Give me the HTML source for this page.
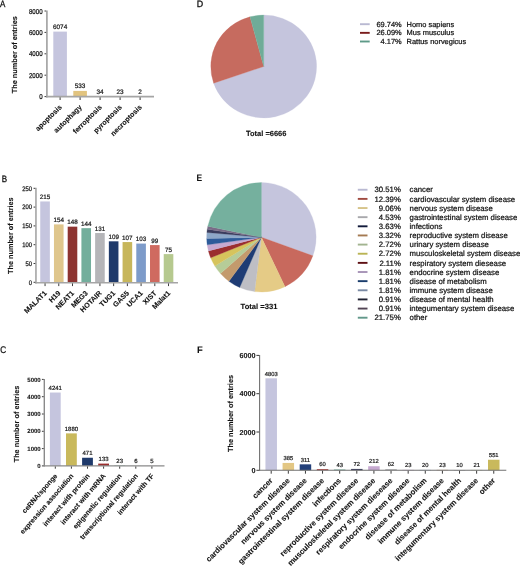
<!DOCTYPE html>
<html><head><meta charset="utf-8"><style>
html,body{margin:0;padding:0;background:#fff;}
svg{display:block;will-change:transform;filter:blur(0.35px);}
text{font-family:"Liberation Sans", sans-serif;text-rendering:geometricPrecision;}
</style></head><body>
<svg width="520" height="568" viewBox="0 0 520 568">
<rect width="520" height="568" fill="#fff"/>
<text x="0" y="0" font-size="9.4" stroke="#111111" stroke-width="0.3" text-anchor="start" fill="#111111" transform="translate(0 6.8) scale(0.85 1)">A</text>
<text x="0" y="0" font-size="9.4" stroke="#111111" stroke-width="0.3" text-anchor="start" fill="#111111" transform="translate(1.7 181.9) scale(0.85 1)">B</text>
<text x="0" y="0" font-size="9.6" stroke="#111111" stroke-width="0.3" text-anchor="start" fill="#111111" transform="translate(0.2 352.9) scale(0.85 1)">C</text>
<text x="0" y="0" font-size="9.4" stroke="#111111" stroke-width="0.3" text-anchor="start" fill="#111111" transform="translate(196.8 6.9) scale(0.95 1)">D</text>
<text x="0" y="0" font-size="9.4" font-weight="bold" stroke="#111111" stroke-width="0.05" text-anchor="start" fill="#111111" transform="translate(196.4 180.7) scale(0.9 1)">E</text>
<text x="196.9" y="352.9" font-size="9.4" font-weight="bold" stroke="#111111" stroke-width="0.05" text-anchor="start" fill="#111111">F</text>
<rect x="53.3" y="31.61" width="13.6" height="64.99" fill="#c5c5de"/>
<text x="60.1" y="28.91" font-size="6.4" stroke="#222" stroke-width="0.22" text-anchor="middle" fill="#222">6074</text>
<text x="62.3" y="107.6" font-size="7.2" font-weight="bold" stroke="#111111" stroke-width="0.1" text-anchor="end" fill="#111111" transform="rotate(-45 62.3 107.6)">apoptosis</text>
<rect x="73.3" y="90.9" width="13.6" height="5.7" fill="#e2c47f"/>
<text x="80.1" y="88.2" font-size="6.4" stroke="#222" stroke-width="0.22" text-anchor="middle" fill="#222">533</text>
<text x="82.3" y="107.6" font-size="7.2" font-weight="bold" stroke="#111111" stroke-width="0.1" text-anchor="end" fill="#111111" transform="rotate(-45 82.3 107.6)">autophagy</text>
<rect x="93.3" y="96.24" width="13.6" height="0.36" fill="#78a898"/>
<text x="100.1" y="93.54" font-size="6.4" stroke="#222" stroke-width="0.22" text-anchor="middle" fill="#222">34</text>
<text x="102.3" y="107.6" font-size="7.2" font-weight="bold" stroke="#111111" stroke-width="0.1" text-anchor="end" fill="#111111" transform="rotate(-45 102.3 107.6)">ferroptosis</text>
<rect x="113.3" y="96.35" width="13.6" height="0.25" fill="#c0504d"/>
<text x="120.1" y="93.65" font-size="6.4" stroke="#222" stroke-width="0.22" text-anchor="middle" fill="#222">23</text>
<text x="122.3" y="107.6" font-size="7.2" font-weight="bold" stroke="#111111" stroke-width="0.1" text-anchor="end" fill="#111111" transform="rotate(-45 122.3 107.6)">pyroptosis</text>
<rect x="133.3" y="96.58" width="13.6" height="0.02" fill="#9a7ab0"/>
<text x="140.1" y="93.88" font-size="6.4" stroke="#222" stroke-width="0.22" text-anchor="middle" fill="#222">2</text>
<text x="142.3" y="107.6" font-size="7.2" font-weight="bold" stroke="#111111" stroke-width="0.1" text-anchor="end" fill="#111111" transform="rotate(-45 142.3 107.6)">necroptosis</text>
<line x1="46.9" y1="10.5" x2="46.9" y2="97.45" stroke="#a5a5a5" stroke-width="1.7"/>
<line x1="46.05" y1="96.6" x2="154" y2="96.6" stroke="#a5a5a5" stroke-width="1.7"/>
<line x1="60.1" y1="97.35" x2="60.1" y2="100" stroke="#3c3c3c" stroke-width="1.0"/>
<line x1="80.1" y1="97.35" x2="80.1" y2="100" stroke="#3c3c3c" stroke-width="1.0"/>
<line x1="100.1" y1="97.35" x2="100.1" y2="100" stroke="#3c3c3c" stroke-width="1.0"/>
<line x1="120.1" y1="97.35" x2="120.1" y2="100" stroke="#3c3c3c" stroke-width="1.0"/>
<line x1="140.1" y1="97.35" x2="140.1" y2="100" stroke="#3c3c3c" stroke-width="1.0"/>
<line x1="44.5" y1="96.6" x2="46.15" y2="96.6" stroke="#3c3c3c" stroke-width="1.0"/>
<text x="0" y="0" font-size="7.0" stroke="#1a1a1a" stroke-width="0.25" text-anchor="end" fill="#1a1a1a" transform="translate(42.6 99.11) scale(0.88 1)">0</text>
<line x1="44.5" y1="75.2" x2="46.15" y2="75.2" stroke="#3c3c3c" stroke-width="1.0"/>
<text x="0" y="0" font-size="7.0" stroke="#1a1a1a" stroke-width="0.25" text-anchor="end" fill="#1a1a1a" transform="translate(42.6 77.71) scale(0.88 1)">2000</text>
<line x1="44.5" y1="53.8" x2="46.15" y2="53.8" stroke="#3c3c3c" stroke-width="1.0"/>
<text x="0" y="0" font-size="7.0" stroke="#1a1a1a" stroke-width="0.25" text-anchor="end" fill="#1a1a1a" transform="translate(42.6 56.31) scale(0.88 1)">4000</text>
<line x1="44.5" y1="32.4" x2="46.15" y2="32.4" stroke="#3c3c3c" stroke-width="1.0"/>
<text x="0" y="0" font-size="7.0" stroke="#1a1a1a" stroke-width="0.25" text-anchor="end" fill="#1a1a1a" transform="translate(42.6 34.91) scale(0.88 1)">6000</text>
<line x1="44.5" y1="11" x2="46.15" y2="11" stroke="#3c3c3c" stroke-width="1.0"/>
<text x="0" y="0" font-size="7.0" stroke="#1a1a1a" stroke-width="0.25" text-anchor="end" fill="#1a1a1a" transform="translate(42.6 13.51) scale(0.88 1)">8000</text>
<text x="17.2" y="54.7" font-size="7.35" font-weight="bold" stroke="#111111" stroke-width="0.1" text-anchor="middle" fill="#111111" transform="rotate(-90 17.2 54.7)">The number of entries</text>
<rect x="40.25" y="201.46" width="9.6" height="80.84" fill="#c5c5de"/>
<text x="45.05" y="199.16" font-size="6.3" stroke="#222" stroke-width="0.22" text-anchor="middle" fill="#222">215</text>
<text x="47.25" y="293.6" font-size="7.2" font-weight="bold" stroke="#111111" stroke-width="0.1" text-anchor="end" fill="#111111" transform="rotate(-45 47.25 293.6)">MALAT1</text>
<rect x="53.97" y="224.4" width="9.6" height="57.9" fill="#dfc68c"/>
<text x="58.77" y="222.1" font-size="6.3" stroke="#222" stroke-width="0.22" text-anchor="middle" fill="#222">154</text>
<text x="60.97" y="293.6" font-size="7.2" font-weight="bold" stroke="#111111" stroke-width="0.1" text-anchor="end" fill="#111111" transform="rotate(-45 60.97 293.6)">H19</text>
<rect x="67.69" y="226.65" width="9.6" height="55.65" fill="#8d3431"/>
<text x="72.49" y="224.35" font-size="6.3" stroke="#222" stroke-width="0.22" text-anchor="middle" fill="#222">148</text>
<text x="74.69" y="293.6" font-size="7.2" font-weight="bold" stroke="#111111" stroke-width="0.1" text-anchor="end" fill="#111111" transform="rotate(-45 74.69 293.6)">NEAT1</text>
<rect x="81.41" y="228.16" width="9.6" height="54.14" fill="#73ae9c"/>
<text x="86.21" y="225.86" font-size="6.3" stroke="#222" stroke-width="0.22" text-anchor="middle" fill="#222">144</text>
<text x="88.41" y="293.6" font-size="7.2" font-weight="bold" stroke="#111111" stroke-width="0.1" text-anchor="end" fill="#111111" transform="rotate(-45 88.41 293.6)">MEG3</text>
<rect x="95.13" y="233.04" width="9.6" height="49.26" fill="#b5b5b8"/>
<text x="99.93" y="230.74" font-size="6.3" stroke="#222" stroke-width="0.22" text-anchor="middle" fill="#222">131</text>
<text x="102.13" y="293.6" font-size="7.2" font-weight="bold" stroke="#111111" stroke-width="0.1" text-anchor="end" fill="#111111" transform="rotate(-45 102.13 293.6)">HOTAIR</text>
<rect x="108.85" y="241.32" width="9.6" height="40.98" fill="#1f3a6b"/>
<text x="113.65" y="239.02" font-size="6.3" stroke="#222" stroke-width="0.22" text-anchor="middle" fill="#222">109</text>
<text x="115.85" y="293.6" font-size="7.2" font-weight="bold" stroke="#111111" stroke-width="0.1" text-anchor="end" fill="#111111" transform="rotate(-45 115.85 293.6)">TUG1</text>
<rect x="122.57" y="242.07" width="9.6" height="40.23" fill="#c7b65b"/>
<text x="127.37" y="239.77" font-size="6.3" stroke="#222" stroke-width="0.22" text-anchor="middle" fill="#222">107</text>
<text x="129.57" y="293.6" font-size="7.2" font-weight="bold" stroke="#111111" stroke-width="0.1" text-anchor="end" fill="#111111" transform="rotate(-45 129.57 293.6)">GAS5</text>
<rect x="136.29" y="243.57" width="9.6" height="38.73" fill="#7d9bc9"/>
<text x="141.09" y="241.27" font-size="6.3" stroke="#222" stroke-width="0.22" text-anchor="middle" fill="#222">103</text>
<text x="143.29" y="293.6" font-size="7.2" font-weight="bold" stroke="#111111" stroke-width="0.1" text-anchor="end" fill="#111111" transform="rotate(-45 143.29 293.6)">UCA1</text>
<rect x="150.01" y="245.08" width="9.6" height="37.22" fill="#cf6a60"/>
<text x="154.81" y="242.78" font-size="6.3" stroke="#222" stroke-width="0.22" text-anchor="middle" fill="#222">99</text>
<text x="157.01" y="293.6" font-size="7.2" font-weight="bold" stroke="#111111" stroke-width="0.1" text-anchor="end" fill="#111111" transform="rotate(-45 157.01 293.6)">XIST</text>
<rect x="163.73" y="254.1" width="9.6" height="28.2" fill="#b6c98f"/>
<text x="168.53" y="251.8" font-size="6.3" stroke="#222" stroke-width="0.22" text-anchor="middle" fill="#222">75</text>
<text x="170.73" y="293.6" font-size="7.2" font-weight="bold" stroke="#111111" stroke-width="0.1" text-anchor="end" fill="#111111" transform="rotate(-45 170.73 293.6)">Malat1</text>
<line x1="35.95" y1="187.8" x2="35.95" y2="283.5" stroke="#a5a5a5" stroke-width="1.6"/>
<line x1="35.15" y1="282.7" x2="178" y2="282.7" stroke="#a5a5a5" stroke-width="1.6"/>
<line x1="45.05" y1="283.4" x2="45.05" y2="286.1" stroke="#3c3c3c" stroke-width="1.0"/>
<line x1="58.77" y1="283.4" x2="58.77" y2="286.1" stroke="#3c3c3c" stroke-width="1.0"/>
<line x1="72.49" y1="283.4" x2="72.49" y2="286.1" stroke="#3c3c3c" stroke-width="1.0"/>
<line x1="86.21" y1="283.4" x2="86.21" y2="286.1" stroke="#3c3c3c" stroke-width="1.0"/>
<line x1="99.93" y1="283.4" x2="99.93" y2="286.1" stroke="#3c3c3c" stroke-width="1.0"/>
<line x1="113.65" y1="283.4" x2="113.65" y2="286.1" stroke="#3c3c3c" stroke-width="1.0"/>
<line x1="127.37" y1="283.4" x2="127.37" y2="286.1" stroke="#3c3c3c" stroke-width="1.0"/>
<line x1="141.09" y1="283.4" x2="141.09" y2="286.1" stroke="#3c3c3c" stroke-width="1.0"/>
<line x1="154.81" y1="283.4" x2="154.81" y2="286.1" stroke="#3c3c3c" stroke-width="1.0"/>
<line x1="168.53" y1="283.4" x2="168.53" y2="286.1" stroke="#3c3c3c" stroke-width="1.0"/>
<line x1="33.55" y1="282.3" x2="35.25" y2="282.3" stroke="#3c3c3c" stroke-width="1.0"/>
<text x="0" y="0" font-size="6.6" stroke="#1a1a1a" stroke-width="0.25" text-anchor="end" fill="#1a1a1a" transform="translate(32.05 284.66) scale(0.89 1)">0</text>
<line x1="33.55" y1="263.5" x2="35.25" y2="263.5" stroke="#3c3c3c" stroke-width="1.0"/>
<text x="0" y="0" font-size="6.6" stroke="#1a1a1a" stroke-width="0.25" text-anchor="end" fill="#1a1a1a" transform="translate(32.05 265.86) scale(0.89 1)">50</text>
<line x1="33.55" y1="244.7" x2="35.25" y2="244.7" stroke="#3c3c3c" stroke-width="1.0"/>
<text x="0" y="0" font-size="6.6" stroke="#1a1a1a" stroke-width="0.25" text-anchor="end" fill="#1a1a1a" transform="translate(32.05 247.06) scale(0.89 1)">100</text>
<line x1="33.55" y1="225.9" x2="35.25" y2="225.9" stroke="#3c3c3c" stroke-width="1.0"/>
<text x="0" y="0" font-size="6.6" stroke="#1a1a1a" stroke-width="0.25" text-anchor="end" fill="#1a1a1a" transform="translate(32.05 228.26) scale(0.89 1)">150</text>
<line x1="33.55" y1="207.1" x2="35.25" y2="207.1" stroke="#3c3c3c" stroke-width="1.0"/>
<text x="0" y="0" font-size="6.6" stroke="#1a1a1a" stroke-width="0.25" text-anchor="end" fill="#1a1a1a" transform="translate(32.05 209.46) scale(0.89 1)">200</text>
<line x1="33.55" y1="188.3" x2="35.25" y2="188.3" stroke="#3c3c3c" stroke-width="1.0"/>
<text x="0" y="0" font-size="6.6" stroke="#1a1a1a" stroke-width="0.25" text-anchor="end" fill="#1a1a1a" transform="translate(32.05 190.66) scale(0.89 1)">250</text>
<text x="12.6" y="235.7" font-size="7.3" font-weight="bold" stroke="#111111" stroke-width="0.1" text-anchor="middle" fill="#111111" transform="rotate(-90 12.6 235.7)">The number of entries</text>
<rect x="49.9" y="392.53" width="10.8" height="73.37" fill="#c5c5de"/>
<text x="55.3" y="389.93" font-size="6.0" stroke="#222" stroke-width="0.22" text-anchor="middle" fill="#222">4241</text>
<text x="57.8" y="476.2" font-size="7.0" font-weight="bold" stroke="#111111" stroke-width="0.1" text-anchor="end" fill="#111111" transform="rotate(-49 57.8 476.2)">ceRNA/sponge</text>
<rect x="66" y="433.38" width="10.8" height="32.52" fill="#c9b95c"/>
<text x="71.4" y="430.78" font-size="6.0" stroke="#222" stroke-width="0.22" text-anchor="middle" fill="#222">1880</text>
<text x="73.9" y="476.2" font-size="7.0" font-weight="bold" stroke="#111111" stroke-width="0.1" text-anchor="end" fill="#111111" transform="rotate(-49 73.9 476.2)">expression association</text>
<rect x="82.1" y="457.75" width="10.8" height="8.15" fill="#1f3a6b"/>
<text x="87.5" y="455.15" font-size="6.0" stroke="#222" stroke-width="0.22" text-anchor="middle" fill="#222">471</text>
<text x="90" y="476.2" font-size="7.0" font-weight="bold" stroke="#111111" stroke-width="0.1" text-anchor="end" fill="#111111" transform="rotate(-49 90 476.2)">interact with protein</text>
<rect x="98.2" y="463.6" width="10.8" height="2.3" fill="#9b2e2e"/>
<text x="103.6" y="461" font-size="6.0" stroke="#222" stroke-width="0.22" text-anchor="middle" fill="#222">133</text>
<text x="106.1" y="476.2" font-size="7.0" font-weight="bold" stroke="#111111" stroke-width="0.1" text-anchor="end" fill="#111111" transform="rotate(-49 106.1 476.2)">interact with mRNA</text>
<rect x="114.3" y="465.5" width="10.8" height="0.4" fill="#73ae9c"/>
<text x="119.7" y="462.9" font-size="6.0" stroke="#222" stroke-width="0.22" text-anchor="middle" fill="#222">23</text>
<text x="122.2" y="476.2" font-size="7.0" font-weight="bold" stroke="#111111" stroke-width="0.1" text-anchor="end" fill="#111111" transform="rotate(-49 122.2 476.2)">epigenetic regulation</text>
<rect x="130.4" y="465.8" width="10.8" height="0.1" fill="#b5b5b8"/>
<text x="135.8" y="463.2" font-size="6.0" stroke="#222" stroke-width="0.22" text-anchor="middle" fill="#222">6</text>
<text x="138.3" y="476.2" font-size="7.0" font-weight="bold" stroke="#111111" stroke-width="0.1" text-anchor="end" fill="#111111" transform="rotate(-49 138.3 476.2)">transcriptional regulation</text>
<rect x="146.5" y="465.81" width="10.8" height="0.09" fill="#c5a5d0"/>
<text x="151.9" y="463.21" font-size="6.0" stroke="#222" stroke-width="0.22" text-anchor="middle" fill="#222">5</text>
<text x="154.4" y="476.2" font-size="7.0" font-weight="bold" stroke="#111111" stroke-width="0.1" text-anchor="end" fill="#111111" transform="rotate(-49 154.4 476.2)">interact with TF</text>
<line x1="44.3" y1="378.9" x2="44.3" y2="466.6" stroke="#8a8a8a" stroke-width="1.4"/>
<line x1="43.6" y1="465.9" x2="164.5" y2="465.9" stroke="#8a8a8a" stroke-width="1.4"/>
<line x1="55.3" y1="466.5" x2="55.3" y2="468.7" stroke="#3c3c3c" stroke-width="1.0"/>
<line x1="71.4" y1="466.5" x2="71.4" y2="468.7" stroke="#3c3c3c" stroke-width="1.0"/>
<line x1="87.5" y1="466.5" x2="87.5" y2="468.7" stroke="#3c3c3c" stroke-width="1.0"/>
<line x1="103.6" y1="466.5" x2="103.6" y2="468.7" stroke="#3c3c3c" stroke-width="1.0"/>
<line x1="119.7" y1="466.5" x2="119.7" y2="468.7" stroke="#3c3c3c" stroke-width="1.0"/>
<line x1="135.8" y1="466.5" x2="135.8" y2="468.7" stroke="#3c3c3c" stroke-width="1.0"/>
<line x1="151.9" y1="466.5" x2="151.9" y2="468.7" stroke="#3c3c3c" stroke-width="1.0"/>
<line x1="41.9" y1="465.9" x2="43.7" y2="465.9" stroke="#3c3c3c" stroke-width="1.0"/>
<text x="40.7" y="468.05" font-size="6.0" font-weight="bold" stroke="#1a1a1a" stroke-width="0.1" text-anchor="end" fill="#1a1a1a">0</text>
<line x1="41.9" y1="448.6" x2="43.7" y2="448.6" stroke="#3c3c3c" stroke-width="1.0"/>
<text x="40.7" y="450.75" font-size="6.0" font-weight="bold" stroke="#1a1a1a" stroke-width="0.1" text-anchor="end" fill="#1a1a1a">1000</text>
<line x1="41.9" y1="431.3" x2="43.7" y2="431.3" stroke="#3c3c3c" stroke-width="1.0"/>
<text x="40.7" y="433.45" font-size="6.0" font-weight="bold" stroke="#1a1a1a" stroke-width="0.1" text-anchor="end" fill="#1a1a1a">2000</text>
<line x1="41.9" y1="414" x2="43.7" y2="414" stroke="#3c3c3c" stroke-width="1.0"/>
<text x="40.7" y="416.15" font-size="6.0" font-weight="bold" stroke="#1a1a1a" stroke-width="0.1" text-anchor="end" fill="#1a1a1a">3000</text>
<line x1="41.9" y1="396.7" x2="43.7" y2="396.7" stroke="#3c3c3c" stroke-width="1.0"/>
<text x="40.7" y="398.85" font-size="6.0" font-weight="bold" stroke="#1a1a1a" stroke-width="0.1" text-anchor="end" fill="#1a1a1a">4000</text>
<line x1="41.9" y1="379.4" x2="43.7" y2="379.4" stroke="#3c3c3c" stroke-width="1.0"/>
<text x="40.7" y="381.55" font-size="6.0" font-weight="bold" stroke="#1a1a1a" stroke-width="0.1" text-anchor="end" fill="#1a1a1a">5000</text>
<text x="18.8" y="424" font-size="7.3" font-weight="bold" stroke="#111111" stroke-width="0.1" text-anchor="middle" fill="#111111" transform="rotate(-90 18.8 424)">The number of entries</text>
<path d="M263.7,66.5 L263.7,15.1 A52.9,51.4 0 1 1 213.66,83.18 Z" fill="#c5c5dd" stroke="#c5c5dd" stroke-width="0.3"/>
<path d="M263.7,66.5 L213.66,83.18 A52.9,51.4 0 0 1 250,16.85 Z" fill="#c66b5f" stroke="#c66b5f" stroke-width="0.3"/>
<path d="M263.7,66.5 L250,16.85 A52.9,51.4 0 0 1 263.7,15.1 Z" fill="#6fac98" stroke="#6fac98" stroke-width="0.3"/>
<text x="266.2" y="136" font-size="7.5" font-weight="bold" stroke="#111111" stroke-width="0.1" text-anchor="middle" fill="#111111">Total =6666</text>
<line x1="360" y1="24.2" x2="369.7" y2="24.2" stroke="#b9b9d2" stroke-width="1.9"/>
<text x="401.7" y="26.8" font-size="7.45" stroke="#111111" stroke-width="0.22" text-anchor="end" fill="#111111">69.74%</text>
<text x="406.6" y="26.8" font-size="7.45" stroke="#111111" stroke-width="0.22" text-anchor="start" fill="#111111">Homo sapiens</text>
<line x1="360" y1="32.85" x2="369.7" y2="32.85" stroke="#7a1c1c" stroke-width="1.9"/>
<text x="401.7" y="35.45" font-size="7.45" stroke="#111111" stroke-width="0.22" text-anchor="end" fill="#111111">26.09%</text>
<text x="406.6" y="35.45" font-size="7.45" stroke="#111111" stroke-width="0.22" text-anchor="start" fill="#111111">Mus musculus</text>
<line x1="360" y1="41.5" x2="369.7" y2="41.5" stroke="#5e9a88" stroke-width="1.9"/>
<text x="401.7" y="44.1" font-size="7.45" stroke="#111111" stroke-width="0.22" text-anchor="end" fill="#111111">4.17%</text>
<text x="406.6" y="44.1" font-size="7.45" stroke="#111111" stroke-width="0.22" text-anchor="start" fill="#111111">Rattus norvegicus</text>
<path d="M261.4,237.3 L261.4,182.6 A54.7,54.7 0 0 1 312.85,255.87 Z" fill="#c5c5dd" stroke="#c5c5dd" stroke-width="0.3"/>
<path d="M261.4,237.3 L312.85,255.87 A54.7,54.7 0 0 1 284.99,286.65 Z" fill="#c8695d" stroke="#c8695d" stroke-width="0.3"/>
<path d="M261.4,237.3 L284.99,286.65 A54.7,54.7 0 0 1 254.66,291.58 Z" fill="#e5cb86" stroke="#e5cb86" stroke-width="0.3"/>
<path d="M261.4,237.3 L254.66,291.58 A54.7,54.7 0 0 1 239.69,287.51 Z" fill="#bebec4" stroke="#bebec4" stroke-width="0.3"/>
<path d="M261.4,237.3 L239.69,287.51 A54.7,54.7 0 0 1 228.9,281.3 Z" fill="#1f3c74" stroke="#1f3c74" stroke-width="0.3"/>
<path d="M261.4,237.3 L228.9,281.3 A54.7,54.7 0 0 1 220.49,273.61 Z" fill="#c39a6d" stroke="#c39a6d" stroke-width="0.3"/>
<path d="M261.4,237.3 L220.49,273.61 A54.7,54.7 0 0 1 214.91,266.12 Z" fill="#b6cc98" stroke="#b6cc98" stroke-width="0.3"/>
<path d="M261.4,237.3 L214.91,266.12 A54.7,54.7 0 0 1 210.69,257.8 Z" fill="#d6c45c" stroke="#d6c45c" stroke-width="0.3"/>
<path d="M261.4,237.3 L210.69,257.8 A54.7,54.7 0 0 1 208.42,250.91 Z" fill="#9b2e2e" stroke="#9b2e2e" stroke-width="0.3"/>
<path d="M261.4,237.3 L208.42,250.91 A54.7,54.7 0 0 1 207.22,244.81 Z" fill="#c6a9d0" stroke="#c6a9d0" stroke-width="0.3"/>
<path d="M261.4,237.3 L207.22,244.81 A54.7,54.7 0 0 1 206.72,238.61 Z" fill="#2d5b9a" stroke="#2d5b9a" stroke-width="0.3"/>
<path d="M261.4,237.3 L206.72,238.61 A54.7,54.7 0 0 1 206.92,232.4 Z" fill="#8ea8c8" stroke="#8ea8c8" stroke-width="0.3"/>
<path d="M261.4,237.3 L206.92,232.4 A54.7,54.7 0 0 1 207.29,229.29 Z" fill="#3a3d5e" stroke="#3a3d5e" stroke-width="0.3"/>
<path d="M261.4,237.3 L207.29,229.29 A54.7,54.7 0 0 1 207.83,226.21 Z" fill="#7a6c88" stroke="#7a6c88" stroke-width="0.3"/>
<path d="M261.4,237.3 L207.83,226.21 A54.7,54.7 0 0 1 261.4,182.6 Z" fill="#75b09e" stroke="#75b09e" stroke-width="0.3"/>
<text x="259" y="309.4" font-size="7.6" font-weight="bold" stroke="#111111" stroke-width="0.1" text-anchor="middle" fill="#111111">Total =331</text>
<line x1="357.8" y1="189.75" x2="367.5" y2="189.75" stroke="#b9b9d2" stroke-width="1.9"/>
<text x="400.8" y="192.45" font-size="7.75" stroke="#111111" stroke-width="0.22" text-anchor="end" fill="#111111">30.51%</text>
<text x="409.6" y="192.45" font-size="7.75" stroke="#111111" stroke-width="0.22" text-anchor="start" fill="#111111">cancer</text>
<line x1="357.8" y1="198.89" x2="367.5" y2="198.89" stroke="#a04a40" stroke-width="1.9"/>
<text x="400.8" y="201.59" font-size="7.75" stroke="#111111" stroke-width="0.22" text-anchor="end" fill="#111111">12.39%</text>
<text x="409.6" y="201.59" font-size="7.75" stroke="#111111" stroke-width="0.22" text-anchor="start" fill="#111111">cardiovascular system disease</text>
<line x1="357.8" y1="208.03" x2="367.5" y2="208.03" stroke="#d6c48a" stroke-width="1.9"/>
<text x="400.8" y="210.73" font-size="7.75" stroke="#111111" stroke-width="0.22" text-anchor="end" fill="#111111">9.06%</text>
<text x="409.6" y="210.73" font-size="7.75" stroke="#111111" stroke-width="0.22" text-anchor="start" fill="#111111">nervous system disease</text>
<line x1="357.8" y1="217.17" x2="367.5" y2="217.17" stroke="#a8a8ac" stroke-width="1.9"/>
<text x="400.8" y="219.87" font-size="7.75" stroke="#111111" stroke-width="0.22" text-anchor="end" fill="#111111">4.53%</text>
<text x="409.6" y="219.87" font-size="7.75" stroke="#111111" stroke-width="0.22" text-anchor="start" fill="#111111">gastrointestinal system disease</text>
<line x1="357.8" y1="226.31" x2="367.5" y2="226.31" stroke="#121a3a" stroke-width="1.9"/>
<text x="400.8" y="229.01" font-size="7.75" stroke="#111111" stroke-width="0.22" text-anchor="end" fill="#111111">3.63%</text>
<text x="409.6" y="229.01" font-size="7.75" stroke="#111111" stroke-width="0.22" text-anchor="start" fill="#111111">infections</text>
<line x1="357.8" y1="235.45" x2="367.5" y2="235.45" stroke="#a47a52" stroke-width="1.9"/>
<text x="400.8" y="238.15" font-size="7.75" stroke="#111111" stroke-width="0.22" text-anchor="end" fill="#111111">3.32%</text>
<text x="409.6" y="238.15" font-size="7.75" stroke="#111111" stroke-width="0.22" text-anchor="start" fill="#111111">reproductive system disease</text>
<line x1="357.8" y1="244.59" x2="367.5" y2="244.59" stroke="#a2b490" stroke-width="1.9"/>
<text x="400.8" y="247.29" font-size="7.75" stroke="#111111" stroke-width="0.22" text-anchor="end" fill="#111111">2.72%</text>
<text x="409.6" y="247.29" font-size="7.75" stroke="#111111" stroke-width="0.22" text-anchor="start" fill="#111111">urinary system disease</text>
<line x1="357.8" y1="253.73" x2="367.5" y2="253.73" stroke="#bab454" stroke-width="1.9"/>
<text x="400.8" y="256.43" font-size="7.75" stroke="#111111" stroke-width="0.22" text-anchor="end" fill="#111111">2.72%</text>
<text x="409.6" y="256.43" font-size="7.75" stroke="#111111" stroke-width="0.22" text-anchor="start" fill="#111111">musculoskeletal system disease</text>
<line x1="357.8" y1="262.87" x2="367.5" y2="262.87" stroke="#5e1014" stroke-width="1.9"/>
<text x="400.8" y="265.57" font-size="7.75" stroke="#111111" stroke-width="0.22" text-anchor="end" fill="#111111">2.11%</text>
<text x="409.6" y="265.57" font-size="7.75" stroke="#111111" stroke-width="0.22" text-anchor="start" fill="#111111">respiratory system diesease</text>
<line x1="357.8" y1="272.01" x2="367.5" y2="272.01" stroke="#a692b6" stroke-width="1.9"/>
<text x="400.8" y="274.71" font-size="7.75" stroke="#111111" stroke-width="0.22" text-anchor="end" fill="#111111">1.81%</text>
<text x="409.6" y="274.71" font-size="7.75" stroke="#111111" stroke-width="0.22" text-anchor="start" fill="#111111">endocrine system disease</text>
<line x1="357.8" y1="281.15" x2="367.5" y2="281.15" stroke="#1a3c6c" stroke-width="1.9"/>
<text x="400.8" y="283.85" font-size="7.75" stroke="#111111" stroke-width="0.22" text-anchor="end" fill="#111111">1.81%</text>
<text x="409.6" y="283.85" font-size="7.75" stroke="#111111" stroke-width="0.22" text-anchor="start" fill="#111111">disease of metabolism</text>
<line x1="357.8" y1="290.29" x2="367.5" y2="290.29" stroke="#7a8aa4" stroke-width="1.9"/>
<text x="400.8" y="292.99" font-size="7.75" stroke="#111111" stroke-width="0.22" text-anchor="end" fill="#111111">1.81%</text>
<text x="409.6" y="292.99" font-size="7.75" stroke="#111111" stroke-width="0.22" text-anchor="start" fill="#111111">immune system disease</text>
<line x1="357.8" y1="299.43" x2="367.5" y2="299.43" stroke="#202232" stroke-width="1.9"/>
<text x="400.8" y="302.13" font-size="7.75" stroke="#111111" stroke-width="0.22" text-anchor="end" fill="#111111">0.91%</text>
<text x="409.6" y="302.13" font-size="7.75" stroke="#111111" stroke-width="0.22" text-anchor="start" fill="#111111">disease of mental health</text>
<line x1="357.8" y1="308.57" x2="367.5" y2="308.57" stroke="#524454" stroke-width="1.9"/>
<text x="400.8" y="311.27" font-size="7.75" stroke="#111111" stroke-width="0.22" text-anchor="end" fill="#111111">0.91%</text>
<text x="409.6" y="311.27" font-size="7.75" stroke="#111111" stroke-width="0.22" text-anchor="start" fill="#111111">integumentary system disease</text>
<line x1="357.8" y1="317.71" x2="367.5" y2="317.71" stroke="#62988a" stroke-width="1.9"/>
<text x="400.8" y="320.41" font-size="7.75" stroke="#111111" stroke-width="0.22" text-anchor="end" fill="#111111">21.75%</text>
<text x="409.6" y="320.41" font-size="7.75" stroke="#111111" stroke-width="0.22" text-anchor="start" fill="#111111">other</text>
<rect x="265.45" y="378.32" width="11.5" height="91.98" fill="#c5c5de"/>
<text x="271.2" y="375.52" font-size="5.8" stroke="#222" stroke-width="0.22" text-anchor="middle" fill="#222">4803</text>
<text x="273.2" y="481.1" font-size="7.8" font-weight="bold" stroke="#111111" stroke-width="0.1" text-anchor="end" fill="#111111" transform="rotate(-45 273.2 481.1)">cancer</text>
<rect x="282.57" y="462.93" width="11.5" height="7.37" fill="#e3c784"/>
<text x="288.32" y="460.13" font-size="5.8" stroke="#222" stroke-width="0.22" text-anchor="middle" fill="#222">385</text>
<text x="290.32" y="481.1" font-size="7.8" font-weight="bold" stroke="#111111" stroke-width="0.1" text-anchor="end" fill="#111111" transform="rotate(-45 290.32 481.1)">cardiovascular system disease</text>
<rect x="299.69" y="464.34" width="11.5" height="5.96" fill="#23407a"/>
<text x="305.44" y="461.54" font-size="5.8" stroke="#222" stroke-width="0.22" text-anchor="middle" fill="#222">311</text>
<text x="307.44" y="481.1" font-size="7.8" font-weight="bold" stroke="#111111" stroke-width="0.1" text-anchor="end" fill="#111111" transform="rotate(-45 307.44 481.1)">nervous system disease</text>
<rect x="316.81" y="469.15" width="11.5" height="1.15" fill="#a83a36"/>
<text x="322.56" y="466.35" font-size="5.8" stroke="#222" stroke-width="0.22" text-anchor="middle" fill="#222">60</text>
<text x="324.56" y="481.1" font-size="7.8" font-weight="bold" stroke="#111111" stroke-width="0.1" text-anchor="end" fill="#111111" transform="rotate(-45 324.56 481.1)">gastrointestinal system disease</text>
<rect x="333.93" y="469.48" width="11.5" height="0.82" fill="#73ae9c"/>
<text x="339.68" y="466.68" font-size="5.8" stroke="#222" stroke-width="0.22" text-anchor="middle" fill="#222">43</text>
<text x="341.68" y="481.1" font-size="7.8" font-weight="bold" stroke="#111111" stroke-width="0.1" text-anchor="end" fill="#111111" transform="rotate(-45 341.68 481.1)">infections</text>
<rect x="351.05" y="468.92" width="11.5" height="1.38" fill="#3a3d5e"/>
<text x="356.8" y="466.12" font-size="5.8" stroke="#222" stroke-width="0.22" text-anchor="middle" fill="#222">72</text>
<text x="358.8" y="481.1" font-size="7.8" font-weight="bold" stroke="#111111" stroke-width="0.1" text-anchor="end" fill="#111111" transform="rotate(-45 358.8 481.1)">reproductive system disease</text>
<rect x="368.17" y="466.24" width="11.5" height="4.06" fill="#c6a9d0"/>
<text x="373.92" y="463.44" font-size="5.8" stroke="#222" stroke-width="0.22" text-anchor="middle" fill="#222">212</text>
<text x="375.92" y="481.1" font-size="7.8" font-weight="bold" stroke="#111111" stroke-width="0.1" text-anchor="end" fill="#111111" transform="rotate(-45 375.92 481.1)">musculoskeletal system disease</text>
<rect x="385.29" y="469.11" width="11.5" height="1.19" fill="#b5b5b8"/>
<text x="391.04" y="466.31" font-size="5.8" stroke="#222" stroke-width="0.22" text-anchor="middle" fill="#222">62</text>
<text x="393.04" y="481.1" font-size="7.8" font-weight="bold" stroke="#111111" stroke-width="0.1" text-anchor="end" fill="#111111" transform="rotate(-45 393.04 481.1)">respiratory system diesease</text>
<rect x="402.41" y="469.86" width="11.5" height="0.44" fill="#c5a5d0"/>
<text x="408.16" y="467.06" font-size="5.8" stroke="#222" stroke-width="0.22" text-anchor="middle" fill="#222">23</text>
<text x="410.16" y="481.1" font-size="7.8" font-weight="bold" stroke="#111111" stroke-width="0.1" text-anchor="end" fill="#111111" transform="rotate(-45 410.16 481.1)">endocrine system disease</text>
<rect x="419.53" y="469.92" width="11.5" height="0.38" fill="#7d9bc9"/>
<text x="425.28" y="467.12" font-size="5.8" stroke="#222" stroke-width="0.22" text-anchor="middle" fill="#222">20</text>
<text x="427.28" y="481.1" font-size="7.8" font-weight="bold" stroke="#111111" stroke-width="0.1" text-anchor="end" fill="#111111" transform="rotate(-45 427.28 481.1)">disease of metabolism</text>
<rect x="436.65" y="469.86" width="11.5" height="0.44" fill="#c39a6d"/>
<text x="442.4" y="467.06" font-size="5.8" stroke="#222" stroke-width="0.22" text-anchor="middle" fill="#222">23</text>
<text x="444.4" y="481.1" font-size="7.8" font-weight="bold" stroke="#111111" stroke-width="0.1" text-anchor="end" fill="#111111" transform="rotate(-45 444.4 481.1)">immune system disease</text>
<rect x="453.77" y="470.11" width="11.5" height="0.19" fill="#3a3d5e"/>
<text x="459.52" y="467.31" font-size="5.8" stroke="#222" stroke-width="0.22" text-anchor="middle" fill="#222">10</text>
<text x="461.52" y="481.1" font-size="7.8" font-weight="bold" stroke="#111111" stroke-width="0.1" text-anchor="end" fill="#111111" transform="rotate(-45 461.52 481.1)">disease of mental health</text>
<rect x="470.89" y="469.9" width="11.5" height="0.4" fill="#b6c98f"/>
<text x="476.64" y="467.1" font-size="5.8" stroke="#222" stroke-width="0.22" text-anchor="middle" fill="#222">21</text>
<text x="478.64" y="481.1" font-size="7.8" font-weight="bold" stroke="#111111" stroke-width="0.1" text-anchor="end" fill="#111111" transform="rotate(-45 478.64 481.1)">integumentary system disease</text>
<rect x="488.01" y="459.75" width="11.5" height="10.55" fill="#c9b95c"/>
<text x="493.76" y="456.95" font-size="5.8" stroke="#222" stroke-width="0.22" text-anchor="middle" fill="#222">551</text>
<text x="495.76" y="481.1" font-size="7.8" font-weight="bold" stroke="#111111" stroke-width="0.1" text-anchor="end" fill="#111111" transform="rotate(-45 495.76 481.1)">other</text>
<line x1="259.6" y1="354.9" x2="259.6" y2="470.85" stroke="#707070" stroke-width="1.1"/>
<line x1="259.05" y1="470.3" x2="506.3" y2="470.3" stroke="#707070" stroke-width="1.1"/>
<line x1="271.2" y1="470.75" x2="271.2" y2="473.7" stroke="#3c3c3c" stroke-width="1.0"/>
<line x1="288.32" y1="470.75" x2="288.32" y2="473.7" stroke="#3c3c3c" stroke-width="1.0"/>
<line x1="305.44" y1="470.75" x2="305.44" y2="473.7" stroke="#3c3c3c" stroke-width="1.0"/>
<line x1="322.56" y1="470.75" x2="322.56" y2="473.7" stroke="#3c3c3c" stroke-width="1.0"/>
<line x1="339.68" y1="470.75" x2="339.68" y2="473.7" stroke="#3c3c3c" stroke-width="1.0"/>
<line x1="356.8" y1="470.75" x2="356.8" y2="473.7" stroke="#3c3c3c" stroke-width="1.0"/>
<line x1="373.92" y1="470.75" x2="373.92" y2="473.7" stroke="#3c3c3c" stroke-width="1.0"/>
<line x1="391.04" y1="470.75" x2="391.04" y2="473.7" stroke="#3c3c3c" stroke-width="1.0"/>
<line x1="408.16" y1="470.75" x2="408.16" y2="473.7" stroke="#3c3c3c" stroke-width="1.0"/>
<line x1="425.28" y1="470.75" x2="425.28" y2="473.7" stroke="#3c3c3c" stroke-width="1.0"/>
<line x1="442.4" y1="470.75" x2="442.4" y2="473.7" stroke="#3c3c3c" stroke-width="1.0"/>
<line x1="459.52" y1="470.75" x2="459.52" y2="473.7" stroke="#3c3c3c" stroke-width="1.0"/>
<line x1="476.64" y1="470.75" x2="476.64" y2="473.7" stroke="#3c3c3c" stroke-width="1.0"/>
<line x1="493.76" y1="470.75" x2="493.76" y2="473.7" stroke="#3c3c3c" stroke-width="1.0"/>
<line x1="256.4" y1="470.3" x2="259.15" y2="470.3" stroke="#3c3c3c" stroke-width="1.0"/>
<text x="255.6" y="472.9" font-size="7.25" font-weight="bold" stroke="#1a1a1a" stroke-width="0.1" text-anchor="end" fill="#1a1a1a">0</text>
<line x1="256.4" y1="432" x2="259.15" y2="432" stroke="#3c3c3c" stroke-width="1.0"/>
<text x="255.6" y="434.6" font-size="7.25" font-weight="bold" stroke="#1a1a1a" stroke-width="0.1" text-anchor="end" fill="#1a1a1a">2000</text>
<line x1="256.4" y1="393.7" x2="259.15" y2="393.7" stroke="#3c3c3c" stroke-width="1.0"/>
<text x="255.6" y="396.3" font-size="7.25" font-weight="bold" stroke="#1a1a1a" stroke-width="0.1" text-anchor="end" fill="#1a1a1a">4000</text>
<line x1="256.4" y1="355.4" x2="259.15" y2="355.4" stroke="#3c3c3c" stroke-width="1.0"/>
<text x="255.6" y="358" font-size="7.25" font-weight="bold" stroke="#1a1a1a" stroke-width="0.1" text-anchor="end" fill="#1a1a1a">6000</text>
<text x="233" y="413.5" font-size="7.35" font-weight="bold" stroke="#111111" stroke-width="0.1" text-anchor="middle" fill="#111111" transform="rotate(-90 233 413.5)">The number of entries</text>
</svg>
</body></html>
